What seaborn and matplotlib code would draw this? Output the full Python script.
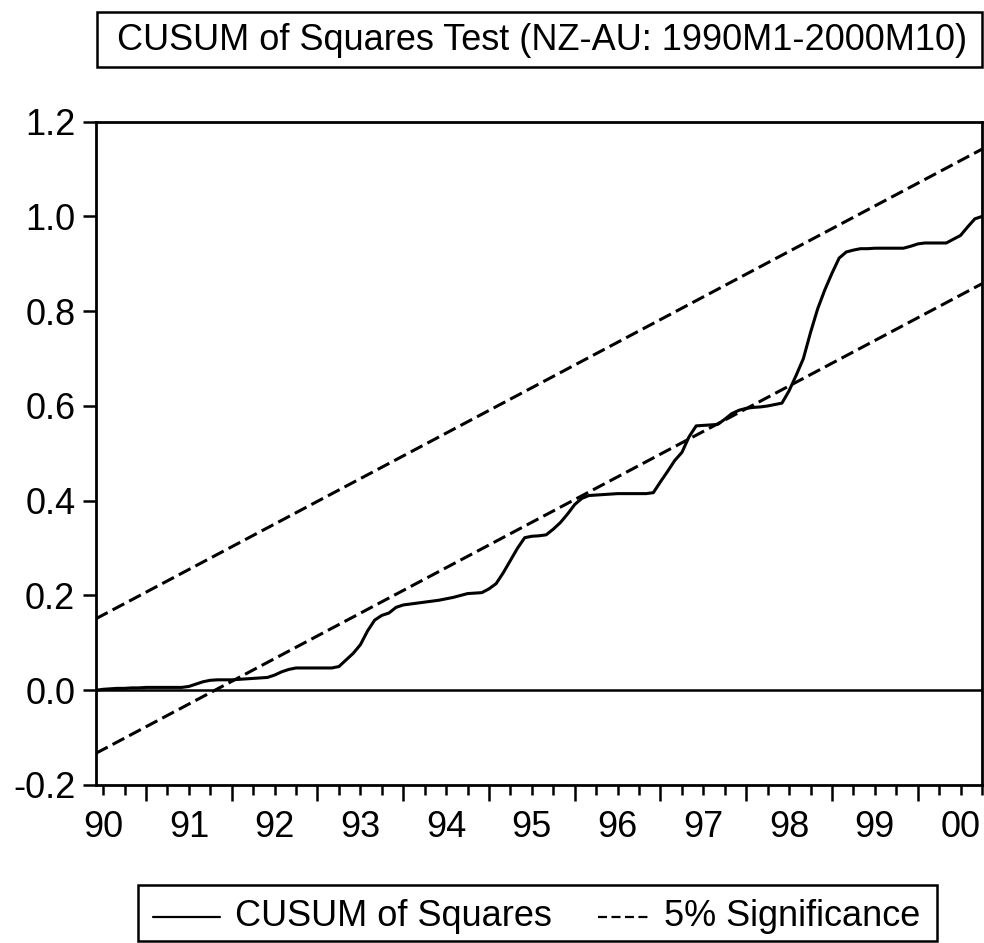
import numpy as np
import pandas as pd
import matplotlib
matplotlib.use("Agg")
import matplotlib.pyplot as plt
import seaborn as sns
from matplotlib.lines import Line2D
from matplotlib.patches import Rectangle

# ---------------- data ----------------
start_year, start_month = 1990, 6          # first recursive residual: 1990M6
cusum_sq = [
    0.000, 0.002, 0.003, 0.004, 0.004, 0.005, 0.005, 0.006, 0.006, 0.006,
    0.006, 0.006, 0.006, 0.008, 0.013, 0.018, 0.021, 0.022, 0.022, 0.022,
    0.023, 0.024, 0.025, 0.026, 0.027, 0.032, 0.039, 0.044, 0.047, 0.047,
    0.047, 0.047, 0.047, 0.047, 0.050, 0.064, 0.078, 0.096, 0.125, 0.148,
    0.158, 0.163, 0.175, 0.180, 0.182, 0.184, 0.186, 0.188, 0.190, 0.193,
    0.196, 0.200, 0.204, 0.205, 0.206, 0.214, 0.225, 0.248, 0.274, 0.300,
    0.322, 0.325, 0.326, 0.328, 0.340, 0.354, 0.372, 0.392, 0.405, 0.411,
    0.412, 0.413, 0.414, 0.415, 0.415, 0.415, 0.415, 0.415, 0.417, 0.440,
    0.462, 0.485, 0.502, 0.535, 0.558, 0.559, 0.560, 0.561, 0.572, 0.584,
    0.591, 0.595, 0.597, 0.598, 0.600, 0.603, 0.606, 0.632, 0.665, 0.700,
    0.755, 0.805, 0.845, 0.880, 0.912, 0.925, 0.929, 0.932, 0.932, 0.933,
    0.933, 0.933, 0.933, 0.933, 0.937, 0.942, 0.944, 0.944, 0.944, 0.944,
    0.952, 0.960, 0.978, 0.995, 1.000,
]
upper_5pct = [0.151, 1.142]     # at first and last observation
lower_5pct = [-0.133, 0.858]
year_labels = ["90", "91", "92", "93", "94", "95", "96", "97", "98", "99", "00"]
label_years = list(range(1990, 2001))
y_ticks = [-0.2, 0.0, 0.2, 0.4, 0.6, 0.8, 1.0, 1.2]
y_tick_labels = ["-0.2", "0.0", "0.2", "0.4", "0.6", "0.8", "1.0", "1.2"]
title_text = "CUSUM of Squares Test (NZ-AU: 1990M1-2000M10)"
legend_labels = ["CUSUM of Squares", "5% Significance"]

n = len(cusum_sq)
t = start_year + (start_month - 1 + np.arange(n)) / 12.0
df = pd.DataFrame({"t": t, "cusum": cusum_sq})
bounds = pd.DataFrame({"t": [t[0], t[-1]], "upper": upper_5pct, "lower": lower_5pct})

# ---------------- style ----------------
sns.set_theme(style="white")
plt.rcParams["font.family"] = ["Liberation Sans", "DejaVu Sans"]
plt.rcParams["lines.scale_dashes"] = False

W, H = 984, 943
fig = plt.figure(figsize=(W / 100, H / 100), dpi=100)
fig.patch.set_facecolor("white")

def fx(x):
    return x / W

def fy(y):
    return 1 - y / H

ax_l, ax_r, ax_t, ax_b = 96, 982, 121.7, 785
ax = fig.add_axes([fx(ax_l), fy(ax_b), fx(ax_r) - fx(ax_l), fy(ax_t) - fy(ax_b)])
ax.set_facecolor("white")

lw = 2.2
dash = (0, (9.5, 4.0))
sns.lineplot(data=df, x="t", y="cusum", ax=ax, color="black", lw=lw, legend=False)
sns.lineplot(data=bounds, x="t", y="upper", ax=ax, color="black", lw=lw, linestyle=dash, legend=False)
sns.lineplot(data=bounds, x="t", y="lower", ax=ax, color="black", lw=lw, linestyle=dash, legend=False)
ax.axhline(0.0, color="black", lw=1.8, zorder=1)

ax.set_xlim(t[0], t[-1])
ax.set_ylim(-0.2, 1.2)
ax.set_xlabel("")
ax.set_ylabel("")

for s in ax.spines.values():
    s.set_visible(True)
    s.set_color("black")
    s.set_linewidth(2.0)

fs = 26
ax.set_yticks(y_ticks)
ax.set_yticklabels(y_tick_labels, fontsize=fs)
ax.tick_params(axis="y", which="major", direction="out", length=9.4, width=1.8,
               pad=5.5, color="black", labelcolor="black", left=True)

major_x = list(range(1991, 2001))
ax.set_xticks(major_x)
ax.set_xticklabels([""] * len(major_x))
quarters = [y + q for y in range(1990, 2001) for q in (0.25, 0.5, 0.75)]
quarters = [q for q in quarters if t[0] <= q <= t[-1] + 1e-9]
qlabels = []
for q in quarters:
    yr = int(np.floor(q))
    if abs(q - yr - 0.5) < 1e-9:
        qlabels.append(year_labels[label_years.index(yr)])
    else:
        qlabels.append("")
ax.set_xticks(quarters, minor=True)
ax.set_xticklabels(qlabels, minor=True, fontsize=fs)
ax.tick_params(axis="x", which="major", direction="out", length=11.5, width=1.8,
               color="black", bottom=True)
ax.tick_params(axis="x", which="minor", direction="out", length=7.2, width=1.8,
               pad=10.5, color="black", labelcolor="black", bottom=True)
ax.grid(False)

# ---------------- title box ----------------
fig.patches.append(Rectangle((fx(97), fy(67)), fx(982) - fx(97), fy(12) - fy(67),
                             transform=fig.transFigure, fill=False, ec="black", lw=1.8))
fig.text(fx(542), fy(40), title_text, ha="center", va="center",
         fontsize=26, color="black")

# ---------------- legend box ----------------
fig.patches.append(Rectangle((fx(138), fy(941)), fx(937) - fx(138), fy(885) - fy(941),
                             transform=fig.transFigure, fill=False, ec="black", lw=1.8))
ly = 917
fig.lines.append(Line2D([fx(153), fx(220)], [fy(ly), fy(ly)], transform=fig.transFigure,
                        color="black", lw=1.6))
fig.text(fx(235), fy(ly), legend_labels[0], ha="left", va="center", fontsize=fs, color="black")
fig.lines.append(Line2D([fx(598), fx(650)], [fy(ly), fy(ly)], transform=fig.transFigure,
                        color="black", lw=1.6, linestyle=(0, (6.5, 3.2))))
fig.text(fx(664), fy(ly), legend_labels[1], ha="left", va="center", fontsize=fs, color="black")

fig.savefig("out.png", dpi=100, facecolor="white")
